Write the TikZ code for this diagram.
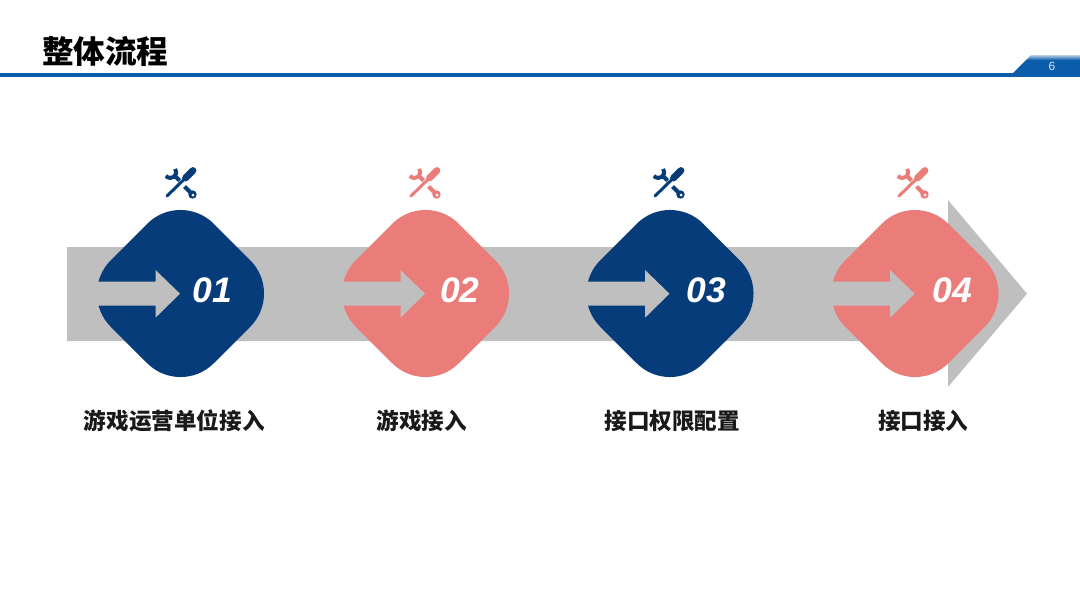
\documentclass[tikz,border=0pt]{standalone}
\usepackage{fontspec}
\setmainfont{Liberation Sans}
\newfontfamily\cjk{Noto Sans CJK SC}
\definecolor{navy}{HTML}{063C7A}
\definecolor{salmon}{HTML}{EA7D7A}
\definecolor{band}{HTML}{BFBFBF}
\definecolor{rule}{HTML}{0B5CAB}
\tikzset{
  titletext/.style={inner sep=0pt, font=\cjk\bfseries\fontsize{31.6}{36}\selectfont},
  steptext/.style={inner sep=0pt, text=black!90, font=\cjk\bfseries\fontsize{22.6}{26}\selectfont},
  numtext/.style={inner sep=0pt, text=white, font=\bfseries\itshape\fontsize{35.5}{40}\selectfont},
  pagetext/.style={inner sep=0pt, text=white!85!rule, font=\fontsize{12}{14}\selectfont},
  pics/toolicon/.style={code={
    \draw[#1, line width=6.8pt, line cap=round] (12,-11.5) -- (4.5,-4);
    \draw[#1, line width=3pt, line cap=round] (6,-5.5) -- (-14,14);
    \draw[#1, line width=4pt] (-15.2,-6) .. controls (-9.5,-1) and (-2,-6.5) .. (-6,-13);
    \draw[#1, line width=4pt] (-6.5,-6.5) -- (-1.5,-1.5);
    \draw[#1, line width=4pt] (3.5,4.5) -- (10,11);
    \fill[#1] (11.5,12.5) circle (4.2pt);
    \fill[white] (12,13) circle (1.5pt);
  }}
}
\begin{document}
\begin{tikzpicture}[x=1pt, y=-1pt]
    \useasboundingbox (0,0) rectangle (1080,606);
    \fill[white] (0,0) rectangle (1080,606);
    % header
    \node[titletext] (title) at (105.3,51) {整体流程};
    \fill[rule] (0,73) rectangle (1080,77);
    \fill[rule] (1013,73) -- (1026,60) -- (1080,60) -- (1080,73) -- cycle;
    \shade[top color=white!70!rule, bottom color=rule] (1026,60) -- (1031,55) -- (1080,55) -- (1080,60) -- cycle;
    \node[pagetext] (page) at (1052,66) {6};
    % long arrow behind the steps
    \fill[band] (67,247) -- (948,247) -- (948,200) -- (1027,293.7) -- (948,387) -- (948,341) -- (67,341) -- cycle;
    % steps
    \foreach \cx/\nx/\col/\num/\txt/\lx/\ix in {
        180.5/212.7/navy/01/游戏运营单位接入/174.3/181,
        425.5/460/salmon/02/游戏接入/421.7/425,
        670/706/navy/03/接口权限配置/672.3/669,
        915/952.5/salmon/04/接口接入/923.3/913} {
      \fill[\col, rounded corners=47pt] (\cx,190.5) -- (\cx+103,293.5) -- (\cx,396.5) -- (\cx-103,293.5) -- cycle;
      \fill[band] (\cx-90,281.7) -- (\cx-25,281.7) -- (\cx-25,270) -- (\cx-0.5,293.7) -- (\cx-25,317.7) -- (\cx-25,305.7) -- (\cx-90,305.7) -- cycle;
      \node[numtext] (num\num) at (\nx,290.5) {\num};
      \node[steptext] (label\num) at (\lx,421) {\txt};
      \pic at (\ix,182) {toolicon=\col};
    }
\end{tikzpicture}
\end{document}
